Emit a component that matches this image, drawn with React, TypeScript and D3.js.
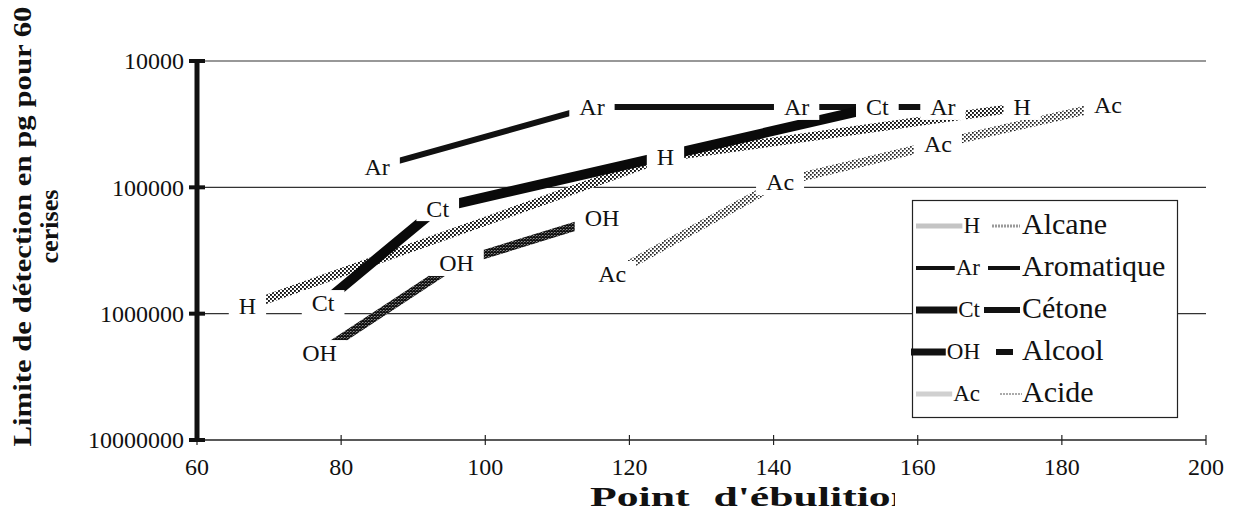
import { useEffect, useRef } from 'react'
import * as d3 from 'd3'

const xTicks = [60, 80, 100, 120, 140, 160, 180, 200]
const yTicks = [10000, 100000, 1000000, 10000000]

const seriesNames = ['Alcane', 'Aromatique', 'Cétone', 'Alcool', 'Acide']
const seriesCodes = ['H', 'Ar', 'Ct', 'OH', 'Ac']

// boiling point (x) and detection limit in pg (y)
const alcaneX = [67, 125, 174.5]
const alcaneY = [870000, 57500, 23100]
const aromatiqueX = [85, 114.8, 143.2, 163.5]
const aromatiqueY = [69000, 23100, 23100, 23100]
const cetoneX = [77.5, 93.4, 154.4]
const cetoneY = [824000, 146000, 23100]
const alcoolX = [77, 96, 116.2]
const alcoolY = [2050000, 397000, 175000]
const acideX = [117.6, 140.9, 162.8, 186.4]
const acideY = [485000, 90800, 45400, 22300]

const W = 1233
const H = 529
const FONT = '"Liberation Serif", "Times New Roman", serif'

export default function App() {
  const svgRef = useRef<SVGSVGElement>(null)

  useEffect(() => {
    const svg = d3.select(svgRef.current)
    svg.selectAll('*').remove()

    const margin = { top: 61, right: 27, bottom: 89, left: 197 }
    const x = d3.scaleLinear().domain([60, 200]).range([margin.left, W - margin.right])
    const y = d3.scaleLog().domain([10000, 10000000]).range([margin.top, H - margin.bottom])

    const defs = svg.append('defs')
    const dots = defs.append('pattern').attr('id', 'dots')
      .attr('patternUnits', 'userSpaceOnUse').attr('width', 4).attr('height', 4)
    dots.append('rect').attr('width', 4).attr('height', 4).attr('fill', '#fff')
    dots.append('rect').attr('width', 1.9).attr('height', 1.9).attr('fill', '#111')
    dots.append('rect').attr('x', 2).attr('y', 2).attr('width', 1.9).attr('height', 1.9).attr('fill', '#111')

    const dotsLight = defs.append('pattern').attr('id', 'dots-light')
      .attr('patternUnits', 'userSpaceOnUse').attr('width', 4).attr('height', 4)
    dotsLight.append('rect').attr('width', 4).attr('height', 4).attr('fill', '#fff')
    dotsLight.append('rect').attr('width', 1.7).attr('height', 1.7).attr('fill', '#222')
    dotsLight.append('rect').attr('x', 2).attr('y', 2).attr('width', 1.7).attr('height', 1.7).attr('fill', '#222')

    const hatch = defs.append('pattern').attr('id', 'hatch')
      .attr('patternUnits', 'userSpaceOnUse').attr('width', 3).attr('height', 3)
    hatch.append('rect').attr('width', 3).attr('height', 3).attr('fill', '#fff')
    hatch.append('path').attr('d', 'M0,0L3,3M3,0L0,3').attr('stroke', '#111').attr('stroke-width', 1.4)

    defs.append('clipPath').attr('id', 'title-clip')
      .append('rect').attr('x', 0).attr('y', 0).attr('width', 895).attr('height', H)

    // grid lines
    svg.append('g')
      .selectAll('line')
      .data(yTicks.slice(0, -1))
      .join('line')
      .attr('x1', x(60)).attr('x2', x(200))
      .attr('y1', d => y(d)).attr('y2', d => y(d))
      .attr('stroke', '#333').attr('stroke-width', 1.1)

    // x axis
    const xAxis = svg.append('g')
    xAxis.append('line')
      .attr('x1', x(60)).attr('x2', x(200))
      .attr('y1', y(1e7)).attr('y2', y(1e7))
      .attr('stroke', '#222').attr('stroke-width', 1.3)
    xAxis.selectAll('line.tick')
      .data(xTicks)
      .join('line')
      .attr('class', 'tick')
      .attr('x1', d => x(d)).attr('x2', d => x(d))
      .attr('y1', y(1e7) - 5).attr('y2', y(1e7) + 5)
      .attr('stroke', '#222').attr('stroke-width', 1.2)
    xAxis.selectAll('text')
      .data(xTicks)
      .join('text')
      .attr('x', d => x(d))
      .attr('y', y(1e7) + 35)
      .attr('text-anchor', 'middle')
      .attr('font-family', FONT)
      .attr('font-size', 24)
      .attr('fill', '#111')
      .text(d => String(d))

    // y axis
    const yAxis = svg.append('g')
    yAxis.append('line')
      .attr('x1', x(60)).attr('x2', x(60))
      .attr('y1', y(1e4) - 2).attr('y2', y(1e7) + 2)
      .attr('stroke', '#111').attr('stroke-width', 5)
    yAxis.selectAll('line.tick')
      .data(yTicks)
      .join('line')
      .attr('class', 'tick')
      .attr('x1', x(60) - 8).attr('x2', x(60) + 8)
      .attr('y1', d => y(d)).attr('y2', d => y(d))
      .attr('stroke', '#111').attr('stroke-width', 4)
    yAxis.selectAll('text')
      .data(yTicks)
      .join('text')
      .attr('x', x(60) - 13)
      .attr('y', d => y(d))
      .attr('dy', '0.35em')
      .attr('text-anchor', 'end')
      .attr('font-family', FONT)
      .attr('font-size', 24)
      .attr('fill', '#111')
      .text(d => d3.format('d')(d))

    const series = [
      { name: seriesNames[0], code: seriesCodes[0], xs: alcaneX, ys: alcaneY, stroke: 'url(#dots)', width: 9 },
      { name: seriesNames[4], code: seriesCodes[4], xs: acideX, ys: acideY, stroke: 'url(#dots-light)', width: 9 },
      { name: seriesNames[3], code: seriesCodes[3], xs: alcoolX, ys: alcoolY, stroke: 'url(#hatch)', width: 9 },
      { name: seriesNames[1], code: seriesCodes[1], xs: aromatiqueX, ys: aromatiqueY, stroke: '#111', width: 6 },
      { name: seriesNames[2], code: seriesCodes[2], xs: cetoneX, ys: cetoneY, stroke: '#0a0a0a', width: 10 },
    ]

    const line = d3.line<[number, number]>()
      .x(d => x(d[0]))
      .y(d => y(d[1]))

    const lines = svg.append('g')
    series.forEach(s => {
      const pts = s.xs.map((v, i) => [v, s.ys[i]] as [number, number])
      lines.append('path')
        .attr('d', line(pts))
        .attr('fill', 'none')
        .attr('stroke', s.stroke)
        .attr('stroke-width', s.width)
        .attr('stroke-linejoin', 'round')
    })

    // point labels with white boxes hiding line ends
    const labels = svg.append('g')
    series.forEach(s => {
      s.xs.forEach((v, i) => {
        const g = labels.append('g').attr('transform', `translate(${x(v)},${y(s.ys[i])})`)
        const rect = g.append('rect').attr('fill', '#fff')
        const t = g.append('text')
          .attr('text-anchor', 'middle')
          .attr('dy', '0.35em')
          .attr('font-family', FONT)
          .attr('font-size', 24)
          .attr('fill', '#111')
          .text(s.code)
        const tw = (t.node() as SVGTextElement).getComputedTextLength()
        rect.attr('x', -tw / 2 - 10).attr('y', -13).attr('width', tw + 20).attr('height', 26)
      })
    })

    // legend
    const legend = svg.append('g')
    legend.append('rect')
      .attr('x', 912.5).attr('y', 200.5).attr('width', 265).attr('height', 217)
      .attr('fill', '#fff').attr('stroke', '#222').attr('stroke-width', 1.2)

    const sample1 = [
      { stroke: '#c4c4c4', width: 5 },
      { stroke: '#111', width: 4 },
      { stroke: '#111', width: 7 },
      { stroke: '#111', width: 7 },
      { stroke: '#d0d0d0', width: 5 },
    ]
    const sample2 = [
      { stroke: '#9a9a9a', width: 3, dash: '2,1', x1: 992, x2: 1020 },
      { stroke: '#111', width: 4, dash: null, x1: 988, x2: 1020 },
      { stroke: '#111', width: 6, dash: null, x1: 984, x2: 1020 },
      { stroke: '#111', width: 6, dash: null, x1: 996, x2: 1013 },
      { stroke: '#aaa', width: 2, dash: '2,1', x1: 1000, x2: 1022 },
    ]

    seriesNames.forEach((name, i) => {
      const cy = 224 + i * 42
      const small = legend.append('text')
        .attr('x', 980).attr('y', cy)
        .attr('dy', '0.4em')
        .attr('text-anchor', 'end')
        .attr('font-family', FONT)
        .attr('font-size', 23)
        .attr('fill', '#111')
        .text(seriesCodes[i])
      const sw = (small.node() as SVGTextElement).getComputedTextLength()
      legend.append('line')
        .attr('x1', i === 3 ? 911 : 916).attr('x2', 979 - sw)
        .attr('y1', cy + 2).attr('y2', cy + 2)
        .attr('stroke', sample1[i].stroke).attr('stroke-width', sample1[i].width)
      legend.append('line')
        .attr('x1', sample2[i].x1).attr('x2', sample2[i].x2)
        .attr('y1', cy + 2).attr('y2', cy + 2)
        .attr('stroke', sample2[i].stroke).attr('stroke-width', sample2[i].width)
        .attr('stroke-dasharray', sample2[i].dash)
      legend.append('text')
        .attr('x', 1022).attr('y', cy)
        .attr('dy', '0.33em')
        .attr('font-family', FONT)
        .attr('font-size', 30)
        .attr('fill', '#111')
        .text(name)
    })

    // axis titles
    const ct = (margin.top + H - margin.bottom) / 2
    svg.append('text')
      .attr('transform', `translate(31,${ct - 24}) rotate(-90)`)
      .attr('text-anchor', 'middle')
      .attr('font-family', FONT)
      .attr('font-weight', 'bold')
      .attr('font-size', 26)
      .attr('fill', '#111')
      .attr('textLength', 440)
      .attr('lengthAdjust', 'spacingAndGlyphs')
      .text('Limite de détection en pg pour 60')
    svg.append('text')
      .attr('transform', `translate(58,${ct - 24}) rotate(-90)`)
      .attr('text-anchor', 'middle')
      .attr('font-family', FONT)
      .attr('font-weight', 'bold')
      .attr('font-size', 26)
      .attr('fill', '#111')
      .attr('textLength', 74)
      .attr('lengthAdjust', 'spacingAndGlyphs')
      .text('cerises')

    svg.append('text')
      .attr('clip-path', 'url(#title-clip)')
      .attr('x', 590)
      .attr('y', 506)
      .attr('font-family', FONT)
      .attr('font-weight', 'bold')
      .attr('font-size', 27)
      .attr('fill', '#111')
      .attr('textLength', 325)
      .attr('lengthAdjust', 'spacingAndGlyphs')
      .attr('word-spacing', 8)
      .text("Point d'ébulition")
  }, [])

  return (
    <svg
      ref={svgRef}
      width={W}
      height={H}
      style={{ position: 'absolute', left: 0, top: 0, background: '#fff' }}
    />
  )
}
